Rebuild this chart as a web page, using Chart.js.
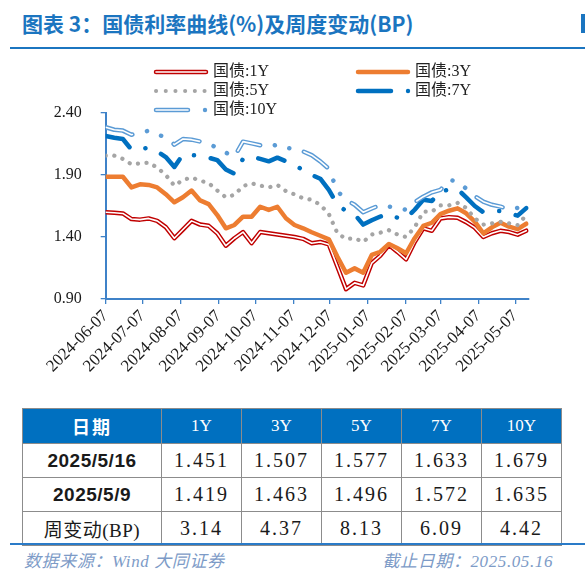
<!DOCTYPE html>
<html lang="zh-CN">
<head>
<meta charset="utf-8">
<script src="https://cdn.jsdelivr.net/npm/chart.js@4.4.1/dist/chart.umd.min.js"></script>
<style>
    html, body { margin: 0; padding: 0; background: #fff; }
    #page { position: relative; width: 585px; height: 577px; overflow: hidden; background: #fff; }
    .title { position: absolute; left: 22px; top: 8px; font: bold 21px "Noto Sans CJK SC", sans-serif; color: #1b75c0; white-space: nowrap; }
    .edge { position: absolute; left: 581px; top: 14px; width: 4px; height: 19px; background: #1b75c0; }
    .rule { position: absolute; left: 10px; top: 47px; width: 575px; height: 2px; background: #1b75c0; }
    #chartBox { position: absolute; left: 0; top: 0; width: 585px; height: 405px; }
    table { position: absolute; left: 22px; top: 408px; border-collapse: collapse; table-layout: fixed; }
    td { border: 1px solid #8c8c8c; text-align: center; padding: 0; height: 33px; color: #1a1a1a;
         font: 20px "Liberation Serif", "Noto Sans CJK SC", serif; letter-spacing: 2px; }
    tr.head td { background: #0070c0; color: #fff; font-size: 17px; height: 34px; letter-spacing: 0; }
    tr.head td.first { font: bold 18px "Noto Sans CJK SC", sans-serif; letter-spacing: 2px; }
    td.date { font: bold 19px "Liberation Sans", "Noto Sans CJK SC", sans-serif; letter-spacing: 0.5px; }
    td.label { font: 19px "Liberation Serif", "Noto Sans CJK SC", serif; letter-spacing: 0.5px; }
    .bottomRule { position: absolute; left: 10px; top: 543px; width: 575px; height: 2px; background: #2a7bc8; }
    .foot { position: absolute; top: 547px; font: italic 17px "Liberation Serif", "Noto Sans CJK SC", serif; color: #7d9bc7; white-space: nowrap; letter-spacing: 0.6px; }
</style>
</head>
<body>
<div id="page">
    <div class="title">图表 3：国债利率曲线(%)及周度变动(BP)</div>
    <div class="edge"></div>
    <div class="rule"></div>
    <div id="chartBox"><canvas id="chart"></canvas></div>
    <table id="tbl"></table>
    <div class="bottomRule"></div>
    <div class="foot" style="left:24px;">数据来源：Wind 大同证券</div>
    <div class="foot" style="right:32px;">截止日期：2025.05.16</div>
</div>
<script>
// weekly observations (Fridays)
const DATES = [
    '2024-06-07', '2024-06-14', '2024-06-21', '2024-06-28', '2024-07-05', '2024-07-12', '2024-07-19', '2024-07-26',
    '2024-08-02', '2024-08-09', '2024-08-16', '2024-08-23', '2024-08-30', '2024-09-06', '2024-09-13', '2024-09-20',
    '2024-09-27', '2024-10-04', '2024-10-11', '2024-10-18', '2024-10-25', '2024-11-01', '2024-11-08', '2024-11-15',
    '2024-11-22', '2024-11-29', '2024-12-06', '2024-12-13', '2024-12-20', '2024-12-27', '2025-01-03', '2025-01-10',
    '2025-01-17', '2025-01-24', '2025-01-31', '2025-02-07', '2025-02-14', '2025-02-21', '2025-02-28', '2025-03-07',
    '2025-03-14', '2025-03-21', '2025-03-28', '2025-04-04', '2025-04-11', '2025-04-18', '2025-04-25', '2025-05-02',
    '2025-05-09', '2025-05-16'
];
const TICK_LABELS = [
    '2024-06-07', '2024-07-07', '2024-08-07', '2024-09-07', '2024-10-07', '2024-11-07',
    '2024-12-07', '2025-01-07', '2025-02-07', '2025-03-07', '2025-04-07', '2025-05-07'
];
const Y_TICKS = [0.9, 1.4, 1.9, 2.4];
const SERIES_NAMES = ['国债:1Y', '国债:3Y', '国债:5Y', '国债:7Y', '国债:10Y'];

const Y1 = [1.60, 1.595, 1.59, 1.545, 1.54, 1.55, 1.53, 1.48, 1.39, 1.46,
            1.53, 1.50, 1.49, 1.43, 1.33, 1.39, 1.44, 1.35, 1.44, 1.43,
            1.42, 1.41, 1.40, 1.385, 1.35, 1.36, 1.34, 1.16, 0.98, 1.03,
            1.01, 1.19, 1.25, 1.335, 1.28, 1.22, 1.36, 1.47, 1.45, 1.55,
            1.56, 1.555, 1.52, 1.475, 1.40, 1.43, 1.45, 1.44, 1.419, 1.451];
const Y3 = [1.886, 1.886, 1.886, 1.80, 1.825, 1.82, 1.80, 1.745, 1.68, 1.72,
            1.775, 1.695, 1.665, 1.577, 1.47, 1.497, 1.564, 1.564, 1.644, 1.618,
            1.644, 1.551, 1.497, 1.47, 1.438, 1.41, 1.381, 1.241, 1.112, 1.147,
            1.112, 1.255, 1.281, 1.344, 1.309, 1.269, 1.39, 1.489, 1.515, 1.585,
            1.612, 1.631, 1.591, 1.524, 1.43, 1.478, 1.515, 1.483, 1.463, 1.507];
const Y5 = [2.056, 2.056, 2.03, 1.986, 1.994, 2.00, 1.96, 1.90, 1.814, 1.86,
            1.88, 1.854, 1.835, 1.775, 1.72, 1.74, 1.81, 1.833, 1.815, 1.80,
            1.82, 1.77, 1.744, 1.712, 1.70, 1.66, 1.585, 1.43, 1.385, 1.39,
            1.36, 1.42, 1.435, 1.455, 1.42, 1.40, 1.478, 1.604, 1.604, 1.655,
            1.655, 1.675, 1.635, 1.55, 1.50, 1.51, 1.523, 1.51, 1.496, 1.577];
const Y7 = [2.214, 2.20, 2.19, 2.105, 2.11, 2.12, 2.09, 2.045, 1.965, 2.065,
            2.06, 2.056, 2.04, 2.02, 1.945, 1.91, 2.03, 2.05, 2.03, 2.01,
            2.04, 2.01, 1.98, 1.94, 1.90, 1.87, 1.78, 1.66, 1.61, 1.583,
            1.50, 1.535, 1.565, 1.585, 1.555, 1.55, 1.62, 1.70, 1.69, 1.77,
            1.78, 1.785, 1.72, 1.65, 1.60, 1.61, 1.61, 1.59, 1.572, 1.633];
const Y10 = [2.285, 2.265, 2.258, 2.225, 2.24, 2.257, 2.23, 2.20, 2.145, 2.19,
             2.185, 2.17, 2.155, 2.115, 2.08, 2.048, 2.169, 2.155, 2.14, 2.127,
             2.145, 2.12, 2.11, 2.09, 2.06, 2.01, 1.95, 1.77, 1.70, 1.66,
             1.60, 1.63, 1.658, 1.645, 1.635, 1.62, 1.68, 1.725, 1.76, 1.78,
             1.86, 1.85, 1.79, 1.73, 1.685, 1.66, 1.645, 1.623, 1.635, 1.679];

const TABLE_HEAD = ['日期', '1Y', '3Y', '5Y', '7Y', '10Y'];
const TABLE_ROWS = [
    ['2025/5/16', '1.451', '1.507', '1.577', '1.633', '1.679'],
    ['2025/5/9', '1.419', '1.463', '1.496', '1.572', '1.635'],
    ['周变动(BP)', '3.14', '4.37', '8.13', '6.09', '4.42']
];

const AXIS_COLOR = '#3f82c8';
const TEXT_COLOR = '#1a1a1a';
const C1 = '#c00000', C3 = '#ed7d31', C5 = '#a5a5a5', C7 = '#0070c0', C10 = '#5b9bd5';
const DASH7 = [28, 17, 0.1, 17];
const DASH10 = [28, 15, 0.1, 15, 0.1, 15];
const DASH10_IN = [28, 45.2];

function dayOf(s) {
    const p = s.split('-').map(Number);
    const o = DATES[0].split('-').map(Number);
    return (Date.UTC(p[0], p[1] - 1, p[2]) - Date.UTC(o[0], o[1] - 1, o[2])) / 86400000;
}

function pts(values) {
    return DATES.map((d, i) => ({ x: dayOf(d), y: values[i] }));
}

function serie(values, color, width, dash, order) {
    return {
        data: pts(values),
        borderColor: color,
        borderWidth: width,
        borderDash: dash || [],
        borderCapStyle: 'round',
        borderJoinStyle: 'round',
        pointRadius: 0,
        tension: 0,
        fill: false,
        order: order
    };
}

// table
const tbl = document.getElementById('tbl');
const colW = [139, 80, 80, 80, 80, 80];
let html = '<colgroup>' + colW.map(w => '<col style="width:' + w + 'px">').join('') + '</colgroup>';
html += '<tr class="head">' + TABLE_HEAD.map((h, i) => '<td' + (i === 0 ? ' class="first"' : '') + '>' + h + '</td>').join('') + '</tr>';
TABLE_ROWS.forEach((row, r) => {
    html += '<tr>' + row.map((c, i) => {
        const cls = i === 0 ? (r < 2 ? ' class="date"' : ' class="label"') : '';
        return '<td' + cls + '>' + c + '</td>';
    }).join('') + '</tr>';
});
tbl.innerHTML = html;

// legend drawn on top of the plot
function seg(ctx, x1, x2, y, color, width, dash) {
    ctx.beginPath();
    ctx.setLineDash(dash || []);
    ctx.strokeStyle = color;
    ctx.lineWidth = width;
    ctx.moveTo(x1, y);
    ctx.lineTo(x2, y);
    ctx.stroke();
}
function dot(ctx, x, y, r, color) {
    ctx.beginPath();
    ctx.fillStyle = color;
    ctx.arc(x, y, r, 0, Math.PI * 2);
    ctx.fill();
}

const legendPlugin = {
    id: 'topLegend',
    afterDraw(chart) {
        const ctx = chart.ctx;
        ctx.save();
        ctx.lineCap = 'round';
        // 1Y
        seg(ctx, 156, 206, 72, C1, 4.5);
        seg(ctx, 156, 206, 72, '#fff', 1.6);
        // 3Y
        seg(ctx, 358, 408, 72, C3, 4.5);
        // 5Y
        seg(ctx, 156, 205, 91, C5, 4, [0.1, 9.6]);
        // 7Y
        seg(ctx, 358, 391, 91, C7, 4.5);
        dot(ctx, 408, 91, 2.2, C7);
        // 10Y
        seg(ctx, 156, 188, 110, C10, 4.5);
        seg(ctx, 156, 188, 110, '#fff', 1.6);
        dot(ctx, 205, 110, 2.2, C10);

        ctx.setLineDash([]);
        ctx.fillStyle = '#222';
        ctx.font = '16px "Liberation Serif", "Noto Sans CJK SC", serif';
        ctx.textBaseline = 'middle';
        ctx.textAlign = 'left';
        ctx.fillText(SERIES_NAMES[0], 213, 72);
        ctx.fillText(SERIES_NAMES[1], 415, 72);
        ctx.fillText(SERIES_NAMES[2], 213, 91);
        ctx.fillText(SERIES_NAMES[3], 415, 91);
        ctx.fillText(SERIES_NAMES[4], 213, 110);
        ctx.restore();
    }
};

const ctx = document.getElementById('chart').getContext('2d');
new Chart(ctx, {
    type: 'line',
    data: {
        datasets: [
            serie(Y1, C1, 4.5, null, 10),
            serie(Y1, '#fff', 1.6, null, 9),
            serie(Y3, C3, 4.5, null, 8),
            serie(Y5, C5, 4.2, [0.1, 8.5], 7),
            serie(Y7, C7, 4.5, DASH7, 6),
            serie(Y10, C10, 4.5, DASH10, 5),
            serie(Y10, '#fff', 1.6, DASH10_IN, 4)
        ]
    },
    options: {
        responsive: true,
        maintainAspectRatio: false,
        animation: false,
        layout: { padding: { left: 0, right: 56.3, top: 113, bottom: 6 } },
        plugins: {
            legend: { display: false },
            tooltip: { enabled: false }
        },
        scales: {
            x: {
                type: 'linear',
                min: 0,
                max: 345,
                afterBuildTicks: axis => {
                    axis.ticks = TICK_LABELS.map(s => ({ value: dayOf(s) }));
                },
                afterFit: axis => { axis.height = 100; },
                ticks: {
                    autoSkip: false,
                    minRotation: 45,
                    maxRotation: 45,
                    padding: 2,
                    color: TEXT_COLOR,
                    font: { family: '"Liberation Serif", serif', size: 17 },
                    callback: (v, i) => TICK_LABELS[i]
                },
                grid: { drawOnChartArea: false, drawTicks: true, tickLength: 5, color: AXIS_COLOR, lineWidth: 1.3 },
                border: { display: true, color: AXIS_COLOR, width: 2 }
            },
            y: {
                min: 0.9,
                max: 2.4,
                afterBuildTicks: axis => {
                    axis.ticks = Y_TICKS.map(v => ({ value: v }));
                },
                afterFit: axis => { axis.width = 105.7; },
                ticks: {
                    padding: 19,
                    color: TEXT_COLOR,
                    font: { family: '"Liberation Serif", serif', size: 16 },
                    callback: v => v.toFixed(2)
                },
                grid: { drawOnChartArea: false, drawTicks: true, tickLength: 5, color: AXIS_COLOR, lineWidth: 1.3 },
                border: { display: true, color: AXIS_COLOR, width: 2 }
            }
        }
    },
    plugins: [legendPlugin]
});
</script>
</body>
</html>
